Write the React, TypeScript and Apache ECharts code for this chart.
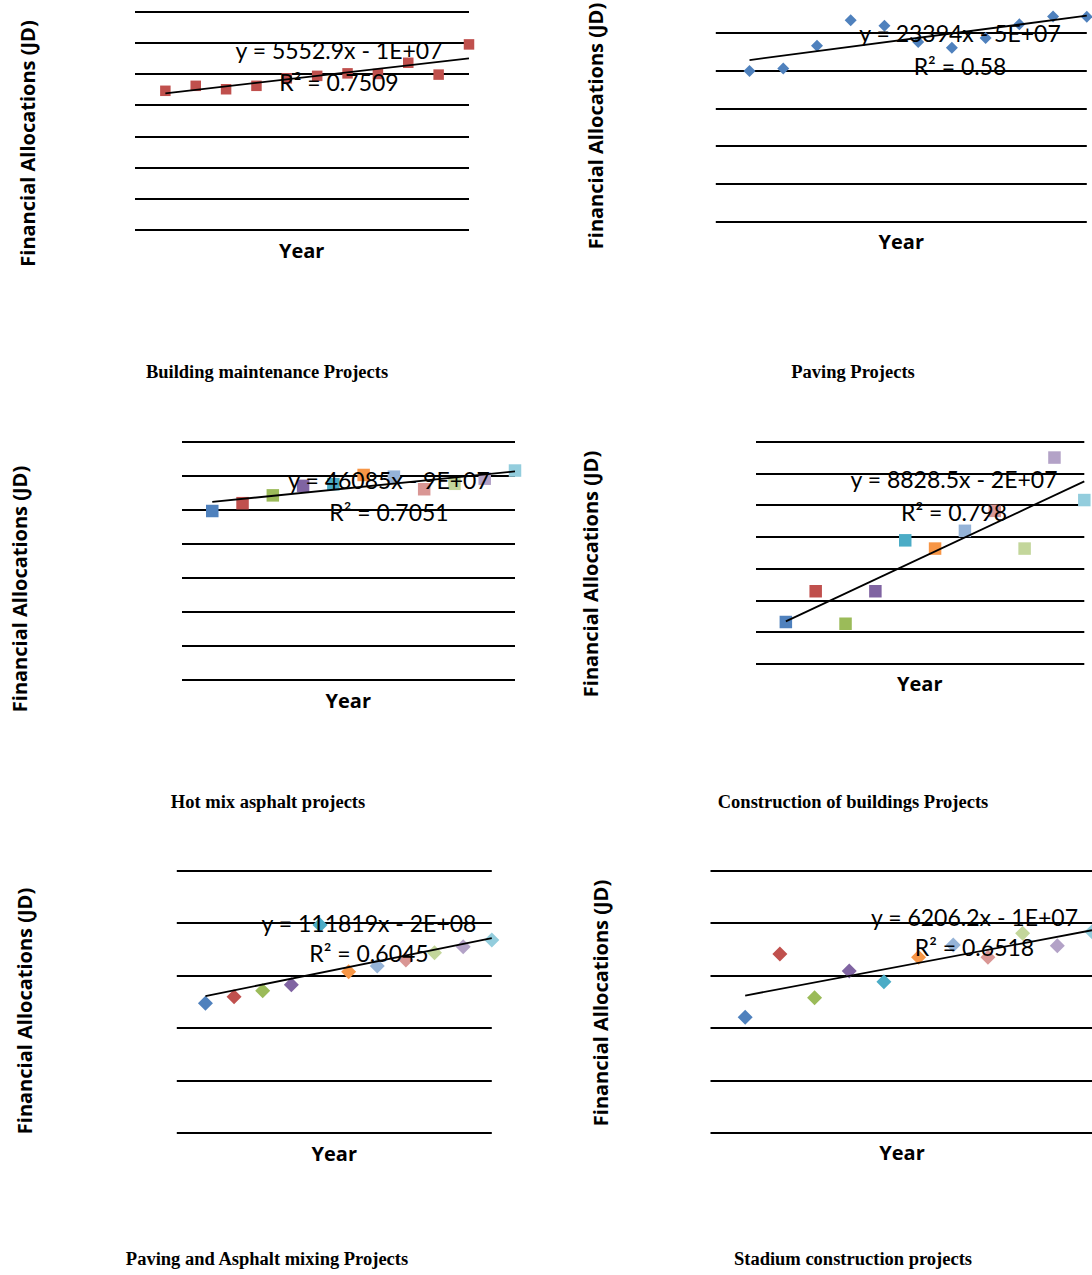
import React, { useEffect, useRef } from "react";
import * as echarts from "echarts";

// ---- data ----
const years = [2000, 2001, 2002, 2003, 2004, 2005, 2006, 2007, 2008, 2009, 2010];

const buildingMaintenance = [223000, 231000, 225500, 231000, 243000, 247000, 251000, 250000, 268000, 249000, 297500];
const paving = [798000, 812000, 932000, 1068000, 1038000, 952000, 922000, 974000, 1046000, 1088000, 1086000];
const hotMixAsphalt = [2475000, 2590000, 2705000, 2845000, 2870000, 3005000, 2980000, 2795000, 2875000, 2950000, 3070000];
const constructionBuildings = [26300, 45700, 25200, 45700, 77800, 72600, 83800, 96400, 72600, 130000, 103200];
const pavingAsphaltMixing = [2470000, 2595000, 2710000, 2824000, 3964000, 3073000, 3181000, 3296000, 3435000, 3550000, 3677000];
const stadium = [110100, 170500, 128800, 154300, 144100, 167350, 179100, 167350, 190250, 178450, 191800];

const chartTitles = [
  "Building maintenance Projects",
  "Paving Projects",
  "Hot mix asphalt projects",
  "Construction of buildings Projects",
  "Paving and Asphalt mixing Projects",
  "Stadium construction projects",
];
const equations = [
  "y = 5552.9x - 1E+07",
  "y = 23394x - 5E+07",
  "y = 46085x - 9E+07",
  "y = 8828.5x - 2E+07",
  "y = 111819x - 2E+08",
  "y = 6206.2x - 1E+07",
];
const rSquared = ["R² = 0.7509", "R² = 0.58", "R² = 0.7051", "R² = 0.798", "R² = 0.6045", "R² = 0.6518"];
const yMax = [350000, 1000000, 3500000, 140000, 5000000, 250000];
const yInterval = [50000, 200000, 500000, 20000, 1000000, 50000];
const yAxisTitle = "Financial Allocations (JD)";
const xAxisTitle = "Year";

const pointColors = ["#4F81BD", "#C0504D", "#9BBB59", "#8064A2", "#4BACC6", "#F79646", "#95B3D7", "#D99694", "#C3D69B", "#B3A2C7", "#93CDDD"];

// ---- layout / style ----
const seriesData = [buildingMaintenance, paving, hotMixAsphalt, constructionBuildings, pavingAsphaltMixing, stadium];
const grids = [
  { left: 135, top: 11.7, width: 334, height: 218 },
  { left: 715.8, top: 33, width: 371, height: 188.7 },
  { left: 182, top: 441.3, width: 333, height: 238 },
  { left: 756, top: 441.7, width: 328.3, height: 222 },
  { left: 176.8, top: 870.7, width: 315, height: 262 },
  { left: 710.5, top: 870.7, width: 383, height: 262 },
];
const markers = [
  { symbol: "rect", size: 10.5, vary: false, color: "#C0504D" },
  { symbol: "diamond", size: 12, vary: false, color: "#4F81BD" },
  { symbol: "rect", size: 12.5, vary: true, color: "" },
  { symbol: "rect", size: 12.5, vary: true, color: "" },
  { symbol: "diamond", size: 15, vary: true, color: "" },
  { symbol: "diamond", size: 15, vary: true, color: "" },
];
const eqPos = [
  { x: 339, y1: 50, y2: 81.7 },
  { x: 960, y1: 33.3, y2: 65.7 },
  { x: 389, y1: 480, y2: 511.7 },
  { x: 954, y1: 479.3, y2: 512.3 },
  { x: 369, y1: 923.3, y2: 953.3 },
  { x: 974.5, y1: 916.7, y2: 947.3 },
];
const yTitlePos = [
  { x: 27, y: 143.5 },
  { x: 595.5, y: 126 },
  { x: 19, y: 589 },
  { x: 590, y: 574 },
  { x: 24.5, y: 1011 },
  { x: 600, y: 1003 },
];
const xTitlePos = [
  { x: 301.7, y: 250 },
  { x: 901.3, y: 241.7 },
  { x: 348.3, y: 700 },
  { x: 919.8, y: 683.3 },
  { x: 334.3, y: 1153 },
  { x: 902, y: 1152 },
];
const titlePos = [
  { x: 267, y: 372 },
  { x: 853, y: 372 },
  { x: 268, y: 802 },
  { x: 853, y: 802 },
  { x: 267, y: 1259 },
  { x: 853, y: 1259 },
];

function regression(xs: number[], ys: number[]) {
  const n = xs.length;
  const mx = xs.reduce((a, b) => a + b, 0) / n;
  const my = ys.reduce((a, b) => a + b, 0) / n;
  let sxy = 0;
  let sxx = 0;
  for (let i = 0; i < n; i++) {
    sxy += (xs[i] - mx) * (ys[i] - my);
    sxx += (xs[i] - mx) * (xs[i] - mx);
  }
  const slope = sxy / sxx;
  return { slope, intercept: my - slope * mx };
}

export default function App() {
  const ref = useRef<HTMLDivElement>(null);
  useEffect(() => {
    if (!ref.current) return;
    const chart = echarts.init(ref.current, undefined, { renderer: "svg" });

    const grid: any[] = [];
    const xAxis: any[] = [];
    const yAxis: any[] = [];
    const series: any[] = [];
    const graphic: any[] = [];

    seriesData.forEach((vals, i) => {
      grid.push({ ...grids[i], containLabel: false });
      xAxis.push({
        type: "value",
        gridIndex: i,
        min: 1999,
        max: 2010,
        show: false,
        splitLine: { show: false },
      });
      yAxis.push({
        type: "value",
        gridIndex: i,
        min: 0,
        max: yMax[i],
        interval: yInterval[i],
        axisLine: { show: false },
        axisTick: { show: false },
        axisLabel: { show: false },
        splitLine: { show: true, lineStyle: { color: "#000", width: 2 } },
      });
      const m = markers[i];
      series.push({
        type: "scatter",
        xAxisIndex: i,
        yAxisIndex: i,
        symbol: m.symbol,
        symbolSize: m.size,
        clip: false,
        z: 3,
        data: vals.map((v, k) => ({
          value: [years[k], v],
          itemStyle: { color: m.vary ? pointColors[k] : m.color, opacity: 1 },
        })),
      });
      const reg = regression(years, vals);
      const x0 = years[0];
      const x1 = years[years.length - 1];
      series.push({
        type: "line",
        xAxisIndex: i,
        yAxisIndex: i,
        symbol: "none",
        clip: false,
        z: 4,
        lineStyle: { color: "#000", width: 1.8 },
        data: [
          [x0, reg.intercept + reg.slope * x0],
          [x1, reg.intercept + reg.slope * x1],
        ],
      });
      graphic.push({
        type: "text",
        x: eqPos[i].x,
        y: eqPos[i].y1,
        z: 100,
        style: { text: equations[i], fontFamily: "Lato", fontSize: 23, fill: "#000", align: "center", verticalAlign: "middle" },
      });
      graphic.push({
        type: "text",
        x: eqPos[i].x,
        y: eqPos[i].y2,
        z: 100,
        style: { text: rSquared[i], fontFamily: "Lato", fontSize: 23, fill: "#000", align: "center", verticalAlign: "middle" },
      });
      graphic.push({
        type: "text",
        x: yTitlePos[i].x,
        y: yTitlePos[i].y,
        rotation: Math.PI / 2,
        z: 100,
        style: { text: yAxisTitle, fontFamily: "Open Sans", fontWeight: "bold", fontSize: 20, fill: "#000", align: "center", verticalAlign: "middle" },
      });
      graphic.push({
        type: "text",
        x: xTitlePos[i].x,
        y: xTitlePos[i].y,
        z: 100,
        style: { text: xAxisTitle, fontFamily: "Open Sans", fontWeight: "bold", fontSize: 20, fill: "#000", align: "center", verticalAlign: "middle" },
      });
      graphic.push({
        type: "text",
        x: titlePos[i].x,
        y: titlePos[i].y,
        z: 100,
        style: { text: chartTitles[i], fontFamily: "Liberation Serif", fontWeight: "bold", fontSize: 18.5, fill: "#000", align: "center", verticalAlign: "middle" },
      });
    });

    chart.setOption({
      animation: false,
      backgroundColor: "#fff",
      grid,
      xAxis,
      yAxis,
      series,
      graphic,
    });
    return () => chart.dispose();
  }, []);
  return <div ref={ref} style={{ position: "absolute", left: 0, top: 0, width: 1092, height: 1275 }} />;
}
